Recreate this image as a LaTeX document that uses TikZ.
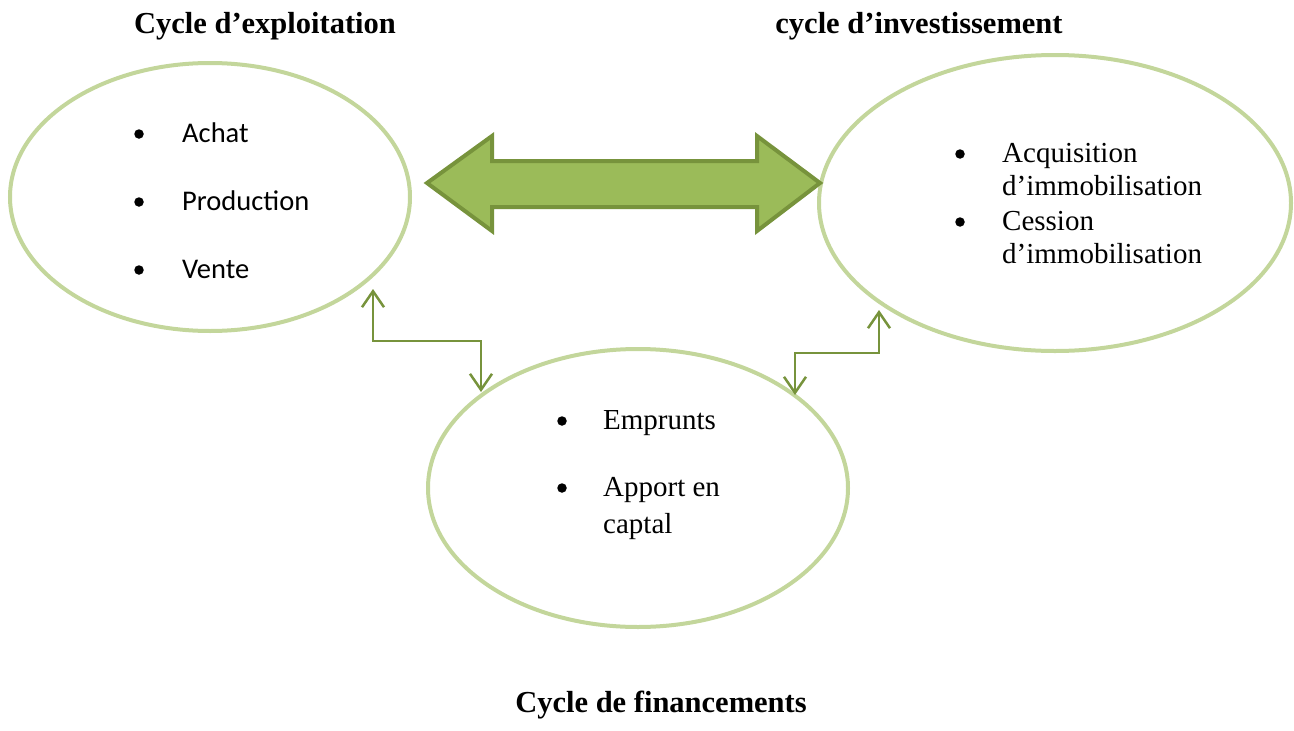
\documentclass[tikz,border=0pt]{standalone}
\usepackage{fontspec}
\usetikzlibrary{arrows.meta}
\setmainfont{Liberation Serif}
\newfontfamily\calib{Carlito}
\definecolor{ringgreen}{HTML}{C3D69B}
\definecolor{fillgreen}{HTML}{9BBB59}
\definecolor{darkgreen}{HTML}{77933C}
\begin{document}
\begin{tikzpicture}[x=1pt,y=-1pt,
  titletext/.style={font=\bfseries\fontsize{30.5}{36}\selectfont,anchor=base,inner sep=0pt},
  itemtext/.style={font=\fontsize{29}{34}\selectfont,anchor=base west,inner sep=0pt},
  itemsans/.style={font=\calib\fontsize{28.5}{34}\selectfont,anchor=base west,inner sep=0pt},
  bul/.style={circle,fill=black,inner sep=0pt,minimum size=9.5pt},
  barb/.tip={Straight Barb[length=16pt,width=22pt,line width=2.5pt,line join=miter,line cap=butt]},
  link/.style={draw=darkgreen,line width=2.5pt,barb-barb},
  bigarrow/.style={fill=fillgreen,draw=darkgreen,line width=4pt,line join=miter}
]
\useasboundingbox (0,0) rectangle (1294,731);
% ellipses
\draw[draw=ringgreen,line width=4pt] (210,197) ellipse [x radius=200,y radius=134];
\draw[draw=ringgreen,line width=4pt] (1055,203) ellipse [x radius=236,y radius=148];
\draw[draw=ringgreen,line width=4pt] (638,488) ellipse [x radius=210,y radius=139];
% titles
\node[titletext] (t1) at (265,33) {Cycle d’exploitation};
\node[titletext] (t2) at (919,33) {cycle d’investissement};
\node[titletext] (t3) at (661,712) {Cycle de financements};
% left list
\node[bul] (b1) at (139,134) {};
\node[itemsans] (l1) at (182,142) {Achat};
\node[bul] (b2) at (139,202) {};
\node[itemsans] (l2) at (182,210) {Production};
\node[bul] (b3) at (139,270) {};
\node[itemsans] (l3) at (182,278) {Vente};
% right list
\node[bul] (b4) at (960,154) {};
\node[itemtext] (r1) at (1002,162) {Acquisition};
\node[itemtext] (r2) at (1002,195) {d’immobilisation};
\node[bul] (b5) at (960,222) {};
\node[itemtext] (r3) at (1002,230) {Cession};
\node[itemtext] (r4) at (1002,263) {d’immobilisation};
% bottom list
\node[bul] (b6) at (562,421) {};
\node[itemtext] (f1) at (603,429) {Emprunts};
\node[bul] (b7) at (562,488) {};
\node[itemtext] (f2) at (603,496) {Apport en};
\node[itemtext] (f3) at (603,533) {captal};
% big double arrow
\path[bigarrow] (427,183) -- (492,136) -- (492,161) -- (757,161) -- (757,136)
  -- (820,183) -- (757,231) -- (757,207) -- (492,207) -- (492,231) -- cycle;
% connectors
\coordinate (c1a) at (481,392);
\coordinate (c1b) at (373,289);
\coordinate (c2a) at (795,395);
\coordinate (c2b) at (879,310);
\draw[link] (c1a) -- (481,341) -- (373,341) -- (c1b);
\draw[link] (c2a) -- (795,353) -- (879,353) -- (c2b);
\end{tikzpicture}
\end{document}
